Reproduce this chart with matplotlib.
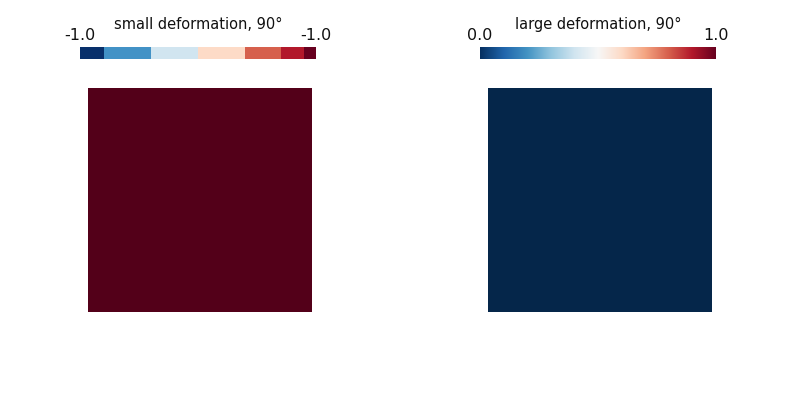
import numpy as np
import matplotlib
matplotlib.use("Agg")
import matplotlib.pyplot as plt
from matplotlib.colors import ListedColormap, BoundaryNorm

# Data
small_title = "small deformation, 90°"
large_title = "large deformation, 90°"
small_field = np.full((10, 10), -1.0)
large_field = np.full((10, 10), 0.0)
small_range = (-1.0, -1.0)
large_range = (0.0, 1.0)
small_bar_edges = [0.0, 0.102, 0.300, 0.499, 0.698, 0.850, 0.950, 1.0]
small_bar_colors = ["#08306b", "#4292c6", "#d1e5f0", "#fddbc7", "#d6604d", "#b2182b", "#67001f"]
small_square_color = "#530019"
large_square_color = "#05264a"

plt.rcParams['font.family'] = ['DejaVu Sans']
fig = plt.figure(figsize=(8, 4), dpi=100)
fig.patch.set_facecolor("white")

# squares
ax1 = fig.add_axes([0.11, 0.22, 0.28, 0.56])
ax1.imshow(small_field, cmap=ListedColormap([small_square_color]), aspect="auto",
           interpolation="nearest")
ax1.set_axis_off()

ax2 = fig.add_axes([0.61, 0.22, 0.28, 0.56])
ax2.imshow(large_field, cmap=ListedColormap([large_square_color]), aspect="auto",
           interpolation="nearest")
ax2.set_axis_off()

# left colorbar (discrete)
cb1 = fig.add_axes([0.10, 0.8525, 0.295, 0.03])
xe = np.array(small_bar_edges)
vals = np.arange(len(small_bar_colors))[None, :]
cb1.pcolormesh(xe, [0, 1], vals, cmap=ListedColormap(small_bar_colors),
               norm=BoundaryNorm(np.arange(len(small_bar_colors) + 1) - 0.5, len(small_bar_colors)))
cb1.set_xlim(0, 1)
cb1.set_ylim(0, 1)
cb1.set_axis_off()

# right colorbar (continuous)
cb2 = fig.add_axes([0.60, 0.8525, 0.295, 0.03])
grad = np.linspace(large_range[0], large_range[1], 256)[None, :]
cb2.imshow(grad, cmap="RdBu_r", aspect="auto", extent=[0, 1, 0, 1],
           vmin=large_range[0], vmax=large_range[1])
cb2.set_xlim(0, 1)
cb2.set_ylim(0, 1)
cb2.set_axis_off()

for cb, title, rng in [(cb1, small_title, small_range), (cb2, large_title, large_range)]:
    cb.text(0.5, 1.0 + 1.25, title, transform=cb.transAxes, ha="center", va="bottom",
            fontsize=10.5, color="#111111")
    cb.text(0.0, 1.0 + 0.3, f"{rng[0]:.1f}", transform=cb.transAxes, ha="center",
            va="bottom", fontsize=11.5, color="#111111")
    cb.text(1.0, 1.0 + 0.3, f"{rng[1]:.1f}", transform=cb.transAxes, ha="center",
            va="bottom", fontsize=11.5, color="#111111")

fig.savefig("out.png", dpi=100, facecolor="white")
